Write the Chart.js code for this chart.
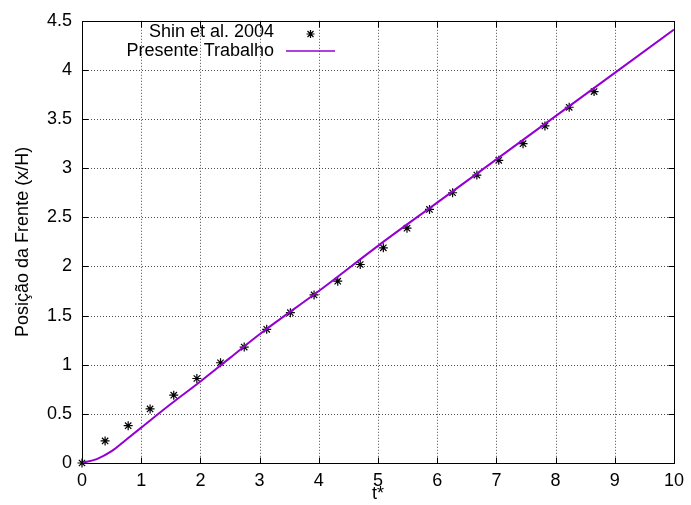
<!DOCTYPE html>
<html>
<head>
<meta charset="utf-8">
<script src="https://cdn.jsdelivr.net/npm/chart.js@4.4.1/dist/chart.umd.min.js"></script>
<style>
  html, body { margin: 0; padding: 0; background: #fff; }
  #wrap { width: 691px; height: 505px; }
</style>
</head>
<body>
<div id="wrap"><canvas id="c" width="691" height="505"></canvas></div>
<script>
// Experimental front position (Shin et al. 2004)
const shinT = [0, 0.39, 0.78, 1.15, 1.55, 1.94, 2.34, 2.74, 3.12, 3.52, 3.92, 4.32, 4.70, 5.09, 5.49, 5.87, 6.26, 6.67, 7.04, 7.45, 7.82, 8.23, 8.65];
const shinX = [0, 0.225, 0.38, 0.55, 0.69, 0.86, 1.02, 1.18, 1.36, 1.53, 1.71, 1.85, 2.02, 2.19, 2.39, 2.58, 2.75, 2.93, 3.08, 3.25, 3.43, 3.62, 3.78];

// Simulated front position (present work)
const simT = [0, 0.25, 0.5, 0.75, 1, 1.5, 2, 2.5, 3, 4, 5, 6, 7, 8, 9, 10];
const simX = [0, 0.04, 0.12, 0.24, 0.36, 0.60, 0.83, 1.07, 1.31, 1.75, 2.21, 2.65, 3.09, 3.53, 3.97, 4.41];

// Axis ticks
const xTicks = [0, 1, 2, 3, 4, 5, 6, 7, 8, 9, 10];
const yTicks = [0, 0.5, 1, 1.5, 2, 2.5, 3, 3.5, 4, 4.5];

const seriesNames = ['Shin et al. 2004', 'Presente Trabalho'];
const lineColor = '#9400D3';
const FONT = 'Liberation Sans, Arial, Helvetica, sans-serif';

const toPts = (xs, ys) => xs.map((x, i) => ({ x: x, y: ys[i] }));

// gnuplot-style frame: dotted grid, closed border, inward tick marks, key
const framePlugin = {
  id: 'frame',
  beforeDatasetsDraw(chart) {
    const { ctx, chartArea: a, scales: { x, y } } = chart;
    ctx.save();
    ctx.strokeStyle = 'rgba(0,0,0,0.7)';
    ctx.lineWidth = 1;
    ctx.setLineDash([1, 2]);
    xTicks.forEach(v => {
      const px = Math.round(x.getPixelForValue(v)) + 0.5;
      if (v === xTicks[0] || v === xTicks[xTicks.length - 1]) return;
      ctx.beginPath(); ctx.moveTo(px, a.top); ctx.lineTo(px, a.bottom); ctx.stroke();
    });
    yTicks.forEach(v => {
      const py = Math.round(y.getPixelForValue(v)) + 0.5;
      if (v === yTicks[0] || v === yTicks[yTicks.length - 1]) return;
      ctx.beginPath(); ctx.moveTo(a.left, py); ctx.lineTo(a.right, py); ctx.stroke();
    });
    ctx.restore();
  },
  afterDatasetsDraw(chart) {
    const { ctx, chartArea: a, scales: { x, y } } = chart;
    ctx.save();
    ctx.strokeStyle = '#000';
    ctx.lineWidth = 1;
    ctx.setLineDash([]);
    const L = Math.round(a.left) + 0.5, R = Math.round(a.right) + 0.5;
    const T = Math.round(a.top) + 0.5, B = Math.round(a.bottom) + 0.5;
    ctx.strokeRect(L, T, R - L, B - T);
    const tl = 6;
    ctx.beginPath();
    xTicks.forEach(v => {
      const px = Math.round(x.getPixelForValue(v)) + 0.5;
      ctx.moveTo(px, B); ctx.lineTo(px, B - tl);
      ctx.moveTo(px, T); ctx.lineTo(px, T + tl);
    });
    yTicks.forEach(v => {
      const py = Math.round(y.getPixelForValue(v)) + 0.5;
      ctx.moveTo(L, py); ctx.lineTo(L + tl, py);
      ctx.moveTo(R, py); ctx.lineTo(R - tl, py);
    });
    ctx.stroke();

    // key
    ctx.font = '18px ' + FONT;
    ctx.fillStyle = '#000';
    ctx.textAlign = 'right';
    ctx.textBaseline = 'alphabetic';
    ctx.fillText(seriesNames[0], 274, 37);
    ctx.fillText(seriesNames[1], 274, 55.5);
    // asterisk sample
    const sx = 310.5, sy = 34, r = 4;
    ctx.lineWidth = 1.2;
    ctx.beginPath();
    ctx.moveTo(sx - r, sy); ctx.lineTo(sx + r, sy);
    ctx.moveTo(sx, sy - r); ctx.lineTo(sx, sy + r);
    ctx.moveTo(sx - r * 0.75, sy - r * 0.75); ctx.lineTo(sx + r * 0.75, sy + r * 0.75);
    ctx.moveTo(sx - r * 0.75, sy + r * 0.75); ctx.lineTo(sx + r * 0.75, sy - r * 0.75);
    ctx.stroke();
    // line sample
    ctx.strokeStyle = lineColor;
    ctx.lineWidth = 1.5;
    ctx.beginPath(); ctx.moveTo(286, 51); ctx.lineTo(335, 51); ctx.stroke();
    ctx.restore();
  }
};

new Chart(document.getElementById('c'), {
  type: 'scatter',
  data: {
    datasets: [
      {
        label: seriesNames[1],
        data: toPts(simT, simX),
        showLine: true,
        borderColor: lineColor,
        borderWidth: 2,
        pointRadius: 0,
        cubicInterpolationMode: 'monotone',
        order: 0
      },
      {
        label: seriesNames[0],
        data: toPts(shinT, shinX),
        showLine: false,
        clip: false,
        pointStyle: 'star',
        pointRadius: 4.5,
        borderColor: '#000',
        backgroundColor: '#000',
        borderWidth: 1.2,
        order: 1
      }
    ]
  },
  options: {
    responsive: false,
    animation: false,
    devicePixelRatio: 1,
    layout: { padding: { left: 0, top: 17.5, right: 16, bottom: 0 } },
    plugins: {
      legend: { display: false },
      tooltip: { enabled: false }
    },
    scales: {
      x: {
        type: 'linear',
        min: 0, max: 10,
        afterBuildTicks: s => { s.ticks = xTicks.map(v => ({ value: v })); },
        afterFit: s => { s.height = 42; },
        grid: { display: false, drawTicks: false },
        border: { display: false },
        ticks: {
          color: '#000',
          padding: 7,
          maxRotation: 0,
          font: { family: FONT, size: 18 },
          callback: v => String(v)
        },
        title: {
          display: true,
          text: 't*',
          color: '#000',
          padding: { top: 0, bottom: 0 },
          font: { family: FONT, size: 18 }
        }
      },
      y: {
        type: 'linear',
        min: 0, max: 4.5,
        afterBuildTicks: s => { s.ticks = yTicks.map(v => ({ value: v })); },
        afterFit: s => { s.width = 82; },
        grid: { display: false, drawTicks: false },
        border: { display: false },
        ticks: {
          color: '#000',
          padding: 10,
          font: { family: FONT, size: 18 },
          callback: v => String(v)
        },
        title: {
          display: true,
          text: 'Posição da Frente (x/H)',
          color: '#000',
          padding: { top: 12, bottom: 0 },
          font: { family: FONT, size: 18 }
        }
      }
    }
  },
  plugins: [framePlugin]
});
</script>
</body>
</html>
